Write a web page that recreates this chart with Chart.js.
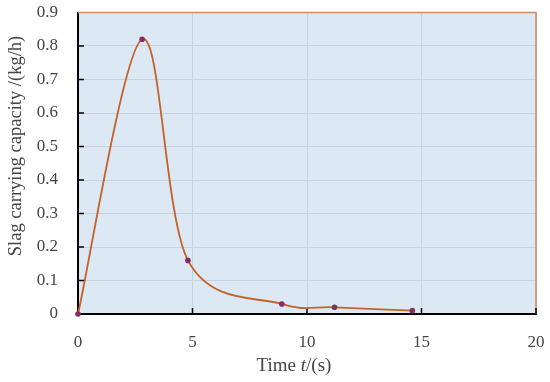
<!DOCTYPE html>
<html>
<head>
<meta charset="utf-8">
<script src="https://cdn.jsdelivr.net/npm/chart.js@4.4.0/dist/chart.umd.min.js"></script>
<style>
  html, body { margin: 0; padding: 0; background: #fff; }
  #wrap { width: 550px; height: 382px; }
</style>
</head>
<body>
<div id="wrap"><canvas id="slagChart"></canvas></div>
<script>
// data
const timeS = [0, 2.8, 4.8, 8.9, 11.2, 14.6];
const capacity = [0, 0.82, 0.16, 0.03, 0.02, 0.01];
const xTicks = [0, 5, 10, 15, 20];
const yTicks = [0, 0.1, 0.2, 0.3, 0.4, 0.5, 0.6, 0.7, 0.8, 0.9];

const fontFam = '"Liberation Serif", "DejaVu Serif", serif';
const textColor = '#454545';

// Excel-style smoothing: control points at 1/6 of the neighbour chord
const smoothPlugin = {
  id: 'smooth',
  beforeDatasetDraw(chart, args) {
    const meta = args.meta;
    meta.dataset.updateControlPoints(chart.chartArea, 'x');
    const pts = meta.data;
    const k = 1 / 6;
    pts.forEach((p, i) => {
      const prev = pts[i - 1] || p;
      const next = pts[i + 1] || p;
      const dx = (next.x - prev.x) * k;
      const dy = (next.y - prev.y) * k;
      p.cp1x = p.x - dx; p.cp1y = p.y - dy;
      p.cp2x = p.x + dx; p.cp2y = p.y + dy;
    });
  }
};

// plot background, orange top/right frame, inward ticks, axis titles
const framePlugin = {
  id: 'frame',
  beforeDraw(chart) {
    const { ctx, chartArea: a } = chart;
    ctx.save();
    ctx.fillStyle = '#dde8f5';
    ctx.fillRect(a.left, a.top, a.right - a.left, a.bottom - a.top);
    ctx.restore();
  },
  beforeDatasetsDraw(chart) {
    const { ctx, chartArea: a, scales } = chart;
    ctx.save();
    ctx.strokeStyle = '#d08a5c';
    ctx.lineWidth = 1.5;
    ctx.beginPath();
    ctx.moveTo(a.left, a.top);
    ctx.lineTo(a.right, a.top);
    ctx.lineTo(a.right, a.bottom);
    ctx.stroke();

    // inward tick marks
    ctx.strokeStyle = '#000';
    ctx.lineWidth = 1.5;
    ctx.beginPath();
    yTicks.forEach(v => {
      if (v === 0 || v === 0.9) return;
      const y = scales.y.getPixelForValue(v);
      ctx.moveTo(a.left, y);
      ctx.lineTo(a.left + 6, y);
    });
    xTicks.forEach(v => {
      if (v === 0) return;
      const x = scales.x.getPixelForValue(v);
      ctx.moveTo(x, a.bottom);
      ctx.lineTo(x, a.bottom - 6);
    });
    ctx.stroke();

    // x axis title: "Time t/(s)" with italic t
    const parts = [['Time ', ''], ['t', 'italic '], ['/(s)', '']];
    const size = 19;
    let total = 0;
    parts.forEach(p => {
      ctx.font = p[1] + size + 'px ' + fontFam;
      total += ctx.measureText(p[0]).width;
    });
    let x = 294 - total / 2;
    ctx.fillStyle = textColor;
    ctx.textBaseline = 'middle';
    parts.forEach(p => {
      ctx.font = p[1] + size + 'px ' + fontFam;
      ctx.fillText(p[0], x, 366);
      x += ctx.measureText(p[0]).width;
    });

    // y axis title
    ctx.translate(16, 146);
    ctx.rotate(-Math.PI / 2);
    ctx.textAlign = 'center';
    ctx.font = '18.5px ' + fontFam;
    ctx.fillText('Slag carrying capacity /(kg/h)', 0, 0);
    ctx.restore();
  }
};

const points = timeS.map((t, i) => ({ x: t, y: capacity[i] }));

new Chart(document.getElementById('slagChart'), {
  type: 'line',
  data: {
    datasets: [{
      data: points,
      borderColor: '#c4622a',
      borderWidth: 1.8,
      tension: 0.4,
      pointRadius: 2.8,
      pointBackgroundColor: '#862e63',
      pointBorderColor: '#862e63',
      pointBorderWidth: 0,
      clip: false
    }]
  },
  options: {
    responsive: true,
    maintainAspectRatio: false,
    animation: false,
    layout: { padding: { top: 12.5, right: 14, left: 0, bottom: 0 } },
    plugins: { legend: { display: false }, tooltip: { enabled: false } },
    scales: {
      x: {
        type: 'linear',
        min: 0,
        max: 20,
        afterBuildTicks: s => { s.ticks = xTicks.map(v => ({ value: v })); },
        afterFit: s => { s.height = 68; s.paddingLeft = 0; s.paddingRight = 0; },
        grid: { color: '#c9d1dc', lineWidth: 1, drawTicks: false },
        border: { color: '#000', width: 2 },
        ticks: {
          padding: 18,
          color: textColor,
          font: { family: fontFam, size: 17 }
        }
      },
      y: {
        min: 0,
        max: 0.9,
        afterBuildTicks: s => { s.ticks = yTicks.map(v => ({ value: v })); },
        afterFit: s => { s.width = 78; s.paddingTop = 0; s.paddingBottom = 0; },
        grid: { color: '#c9d1dc', lineWidth: 1, drawTicks: false },
        border: { color: '#000', width: 2 },
        ticks: {
          padding: 20,
          color: textColor,
          font: { family: fontFam, size: 17 },
          callback: v => String(Math.round(v * 10) / 10)
        }
      }
    }
  },
  plugins: [framePlugin, smoothPlugin]
});
</script>
</body>
</html>
